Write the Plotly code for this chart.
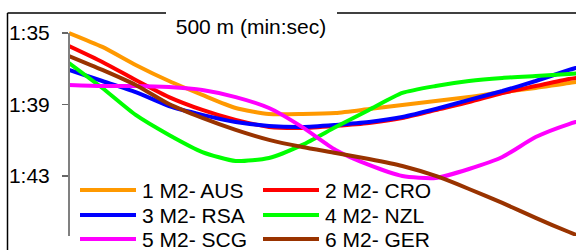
import plotly.graph_objects as go

# distance along the course (m) at which split paces were sampled
distance = [0, 100, 200, 300, 400, 500, 600, 700, 800, 900, 1000, 1100, 1200, 1300, 1400, 1500, 1600]

# pace per 500 m in seconds
aus = [95.00, 95.78, 96.79, 97.69, 98.47, 99.20, 99.54, 99.54, 99.48, 99.26, 99.03, 98.81, 98.59, 98.31, 98.08, 97.80, 97.58]
cro = [95.73, 96.62, 97.63, 98.59, 99.31, 99.87, 100.26, 100.32, 100.20, 100.04, 99.76, 99.31, 98.87, 98.36, 97.97, 97.58, 97.30]
rsa = [97.07, 97.69, 98.31, 99.09, 99.59, 99.99, 100.21, 100.27, 100.15, 99.99, 99.71, 99.26, 98.75, 98.25, 97.69, 97.07, 96.51]
nzl = [96.68, 98.08, 99.59, 100.71, 101.67, 102.17, 102.00, 101.27, 100.27, 99.31, 98.36, 97.97, 97.69, 97.52, 97.41, 97.30, 97.18]
scg = [97.91, 97.97, 97.97, 98.03, 98.19, 98.59, 99.20, 100.27, 101.55, 102.39, 103.01, 103.12, 102.62, 101.95, 100.83, 100.10, 99.59]
ger = [96.29, 97.07, 97.91, 98.98, 99.76, 100.43, 100.99, 101.39, 101.72, 102.06, 102.45, 103.01, 103.74, 104.52, 105.36, 106.15, 106.88]

series_names = ["1 M2- AUS", "2 M2- CRO", "3 M2- RSA", "4 M2- NZL", "5 M2- SCG", "6 M2- GER"]
series_values = [aus, cro, rsa, nzl, scg, ger]
series_colors = ["#FF9900", "#FF0000", "#0000FF", "#00FF00", "#FF00FF", "#993300"]

tick_values = [95, 99, 103]
tick_labels = ["1:35", "1:39", "1:43"]
title_text = "500 m (min:sec)"

FONT = "Liberation Sans, Arial, sans-serif"
FS = 21
W, H = 576, 250
ML, MR, MT, MB = 69, 0, 28, 14
PW, PH = W - ML - MR, H - MT - MB


def px_x(p):
    return (p - ML) / PW


def px_y(p):
    return (H - MB - p) / PH


fig = go.Figure()
for name, vals, col in zip(series_names, series_values, series_colors):
    fig.add_trace(go.Scatter(
        x=distance, y=vals, mode="lines", name=name,
        line=dict(color=col, width=4, shape="spline", smoothing=0.6),
        showlegend=False, hoverinfo="skip",
    ))

y_bottom = 95 + (H - MB - 33) / 17.85
y_top = 95 - (33 - MT) / 17.85

shapes = []
annotations = []
# frame lines
fl = dict(color="#000000", width=1.5)
shapes.append(dict(type="line", xref="paper", yref="paper", x0=px_x(7.5), x1=px_x(7.5), y0=px_y(13), y1=px_y(252), line=fl))
shapes.append(dict(type="line", xref="paper", yref="paper", x0=px_x(7.5), x1=px_x(166), y0=px_y(13), y1=px_y(13), line=fl))
shapes.append(dict(type="line", xref="paper", yref="paper", x0=px_x(337), x1=px_x(580), y0=px_y(13), y1=px_y(13), line=fl))
# y axis line
shapes.append(dict(type="line", xref="paper", yref="y", x0=0, x1=0, y0=95, y1=y_bottom, line=dict(color="#808080", width=2)))

# legend
leg_rows = [190, 215, 239]
leg_cols = [(80, 136, 140), (263, 319, 323)]
for i, (name, col) in enumerate(zip(series_names, series_colors)):
    r, c = i // 2, i % 2
    x0, x1, xt = leg_cols[c]
    yy = leg_rows[r]
    shapes.append(dict(type="line", xref="paper", yref="paper", x0=px_x(x0), x1=px_x(x1), y0=px_y(yy), y1=px_y(yy), line=dict(color=col, width=4)))
    annotations.append(dict(xref="paper", yref="paper", x=px_x(xt), y=px_y(yy), text=name, showarrow=False,
                            xanchor="left", yanchor="middle", font=dict(family=FONT, size=FS, color="#000000")))

fig.update_layout(
    width=W, height=H,
    margin=dict(l=ML, r=MR, t=MT, b=MB, pad=0),
    paper_bgcolor="white", plot_bgcolor="white",
    showlegend=False,
    title=dict(text=title_text, x=251 / W, y=1 - 27 / H, xanchor="center", yanchor="middle",
               font=dict(family=FONT, size=FS, color="#000000")),
    xaxis=dict(range=[0, PW / 0.33333], visible=False, showgrid=False, zeroline=False),
    yaxis=dict(range=[y_bottom, y_top], tickvals=tick_values, ticktext=tick_labels,
               ticks="outside", ticklen=6, tickwidth=1.5, tickcolor="#666666",
               showline=False, showgrid=False, zeroline=False, ticklabelstandoff=8,
               tickfont=dict(family=FONT, size=FS, color="#000000")),
    shapes=shapes, annotations=annotations,
)

fig.write_html("out.html", config={"displayModeBar": False, "staticPlot": True},
               post_script="document.body.style.margin='0px';document.body.style.padding='0px';document.body.style.overflow='hidden';")
